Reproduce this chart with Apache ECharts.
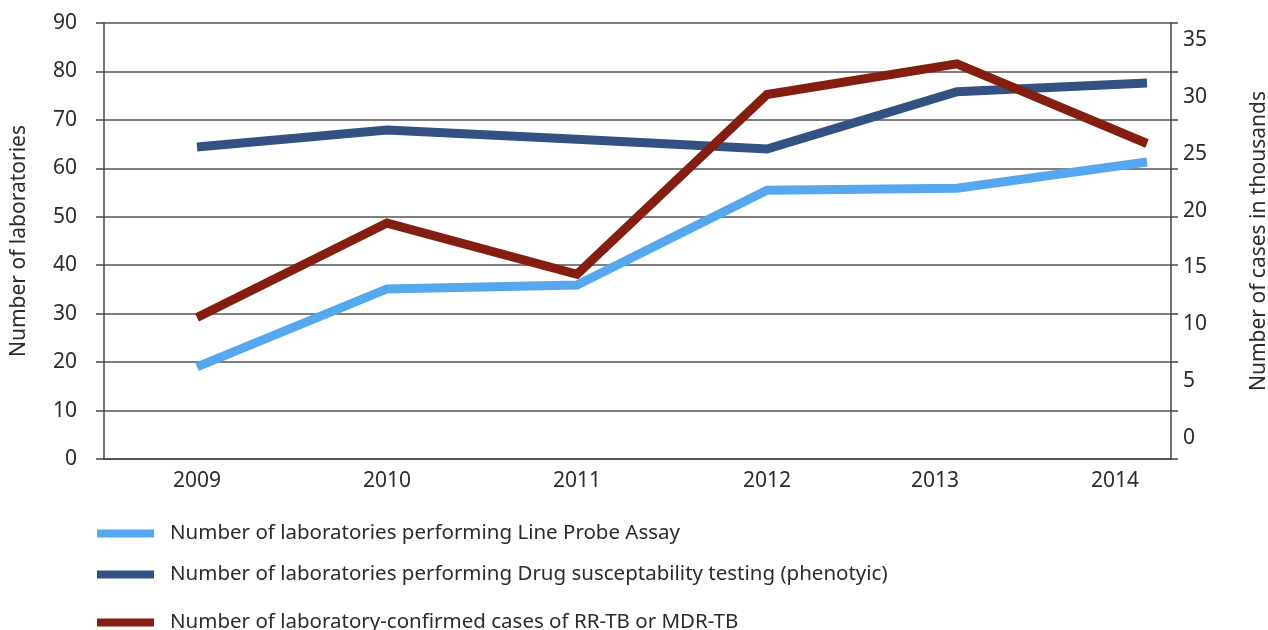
<!DOCTYPE html>
<html>
<head>
<meta charset="utf-8">
<script src="https://cdn.jsdelivr.net/npm/echarts@6/dist/echarts.min.js"></script>
<style>
  html, body { margin: 0; padding: 0; background: #fff; }
  #main { width: 1268px; height: 630px; }
</style>
</head>
<body>
<div id="main"></div>
<script>
  // data
  var years = ['2009', '2010', '2011', '2012', '2013', '2014'];
  var lpaLabs = [19.0, 35.1, 35.9, 55.5, 55.9, 61.3];
  var dstLabs = [64.4, 67.9, 66.0, 64.0, 75.8, 77.6];
  var confirmedCases = [10.6, 18.9, 14.4, 30.2, 32.9, 25.9];

  var nameLpa = 'Number of laboratories performing Line Probe Assay';
  var nameDst = 'Number of laboratories performing Drug susceptability testing (phenotyic)';
  var nameCases = 'Number of laboratory-confirmed cases of RR-TB or MDR-TB';

  var font = 'Noto Sans';
  var txt = '#2b2b2b';

  var chart = echarts.init(document.getElementById('main'));

  function legendAt(name, top) {
    return {
      data: [name],
      left: 97,
      top: top,
      padding: 0,
      icon: 'rect',
      itemWidth: 57,
      itemHeight: 8,
      selectedMode: false,
      textStyle: { fontFamily: font, fontSize: 20.5, color: txt, padding: [0, 0, 0, 11] }
    };
  }

  var option = {
    animation: false,
    grid: [
      { left: 104, right: 97, top: 23, bottom: 171, outerBoundsMode: 'none' },   // frame + gridlines
      { left: 197, right: 121, top: 23, bottom: 171, outerBoundsMode: 'none' },  // laboratories
      { left: 197, right: 121, top: 40, bottom: 192, outerBoundsMode: 'none' }   // cases
    ],
    legend: [
      legendAt(nameLpa, 523),
      legendAt(nameDst, 564),
      legendAt(nameCases, 612)
    ],
    xAxis: [
      {
        gridIndex: 0, type: 'category', data: years,
        axisLine: { lineStyle: { color: '#444', width: 1.5 } },
        axisTick: { show: false }, axisLabel: { show: false }
      },
      {
        gridIndex: 1, type: 'category', data: years, boundaryGap: false,
        axisLine: { show: false }, axisTick: { show: false },
        axisLabel: {
          fontFamily: font, fontSize: 21, color: txt, margin: 12,
          formatter: function (v, i) {
            if (i === 4) return '{a|' + v + '}';
            if (i === 5) return '{b|' + v + '}';
            return v;
          },
          rich: {
            a: { fontFamily: font, fontSize: 21, color: txt, padding: [0, 44, 0, 0] },
            b: { fontFamily: font, fontSize: 21, color: txt, padding: [0, 64, 0, 0] }
          }
        }
      },
      {
        gridIndex: 2, type: 'category', data: years, boundaryGap: false, show: false
      }
    ],
    yAxis: [
      {
        gridIndex: 0, type: 'value', min: 0, max: 90, interval: 10,
        name: 'Number of laboratories', nameLocation: 'middle', nameGap: 74, nameRotate: 90,
        nameTextStyle: { fontFamily: font, fontSize: 21, color: txt },
        axisLine: { show: true, lineStyle: { color: '#444', width: 1.5 } },
        axisTick: { show: true, length: 8, lineStyle: { color: '#444', width: 1.5 } },
        axisLabel: { fontFamily: font, fontSize: 21, color: txt, margin: 27, padding: [0, 0, 8, 0] },
        splitLine: { show: true, lineStyle: { color: '#555', width: 1.5 } }
      },
      {
        gridIndex: 0, type: 'value', position: 'right', min: 0, max: 90, interval: 10,
        name: 'Number of cases in thousands', nameLocation: 'middle', nameGap: 78, nameRotate: 90,
        nameTextStyle: { fontFamily: font, fontSize: 21, color: txt },
        axisLine: { show: true, lineStyle: { color: '#444', width: 1.5 } },
        axisTick: { show: true, length: 7, lineStyle: { color: '#444', width: 1.5 } },
        axisLabel: { show: false },
        splitLine: { show: false }
      },
      {
        gridIndex: 1, type: 'value', min: 0, max: 90, show: false
      },
      {
        gridIndex: 2, type: 'value', position: 'right', offset: 24, min: 0, max: 35, interval: 5,
        axisLine: { show: false }, axisTick: { show: false },
        axisLabel: { fontFamily: font, fontSize: 21, color: txt, margin: 12 },
        splitLine: { show: false }
      }
    ],
    series: [
      {
        name: nameLpa, type: 'line', xAxisIndex: 1, yAxisIndex: 2, data: lpaLabs,
        symbol: 'none', color: '#55a8ef',
        lineStyle: { width: 9, color: '#55a8ef', join: 'miter' }
      },
      {
        name: nameDst, type: 'line', xAxisIndex: 1, yAxisIndex: 2, data: dstLabs,
        symbol: 'none', color: '#335283',
        lineStyle: { width: 9, color: '#335283', join: 'miter' }
      },
      {
        name: nameCases, type: 'line', xAxisIndex: 2, yAxisIndex: 3, data: confirmedCases,
        symbol: 'none', color: '#841e10',
        lineStyle: { width: 9, color: '#841e10', join: 'miter' }
      }
    ]
  };

  chart.setOption(option);
</script>
</body>
</html>
